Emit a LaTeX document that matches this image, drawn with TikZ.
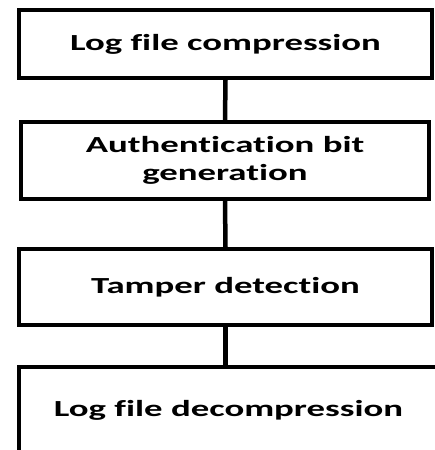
\documentclass[tikz,border=0pt]{standalone}
\usepackage{fontspec}
\setmainfont{Carlito}[FakeStretch=1.6,Ligatures=NoCommon]
\usepackage{tikz}

\begin{document}
\begin{tikzpicture}[x=1pt,y=-1pt,
    stagebox/.style={draw, line width=4pt, align=center, inner sep=0pt,
      font=\fontsize{23}{28}\selectfont\bfseries},
    link/.style={line width=4.5pt}]
        \useasboundingbox (0,0) rectangle (435,450);
        \clip (0,0) rectangle (435,450);
        \node[stagebox, minimum width=413pt, minimum height=68pt] (compress) at (225.5,44) {Log file compression};
        \node[stagebox, minimum width=408pt, minimum height=77pt] (authbit) at (225,160.5) {Authentication bit\\generation};
        \node[stagebox, minimum width=413pt, minimum height=76pt] (tamper) at (225.5,287) {Tamper detection};
        \node[stagebox, minimum width=419pt, minimum height=87pt] (decompress) at (228.5,410) {Log file decompression};
        
        \draw[link] (compress.south) -- (authbit.north);
        \draw[link] (authbit.south) -- (tamper.north);
        \draw[link] (tamper.south) -- (tamper.south |- decompress.north);
      \end{tikzpicture}
\end{document}
